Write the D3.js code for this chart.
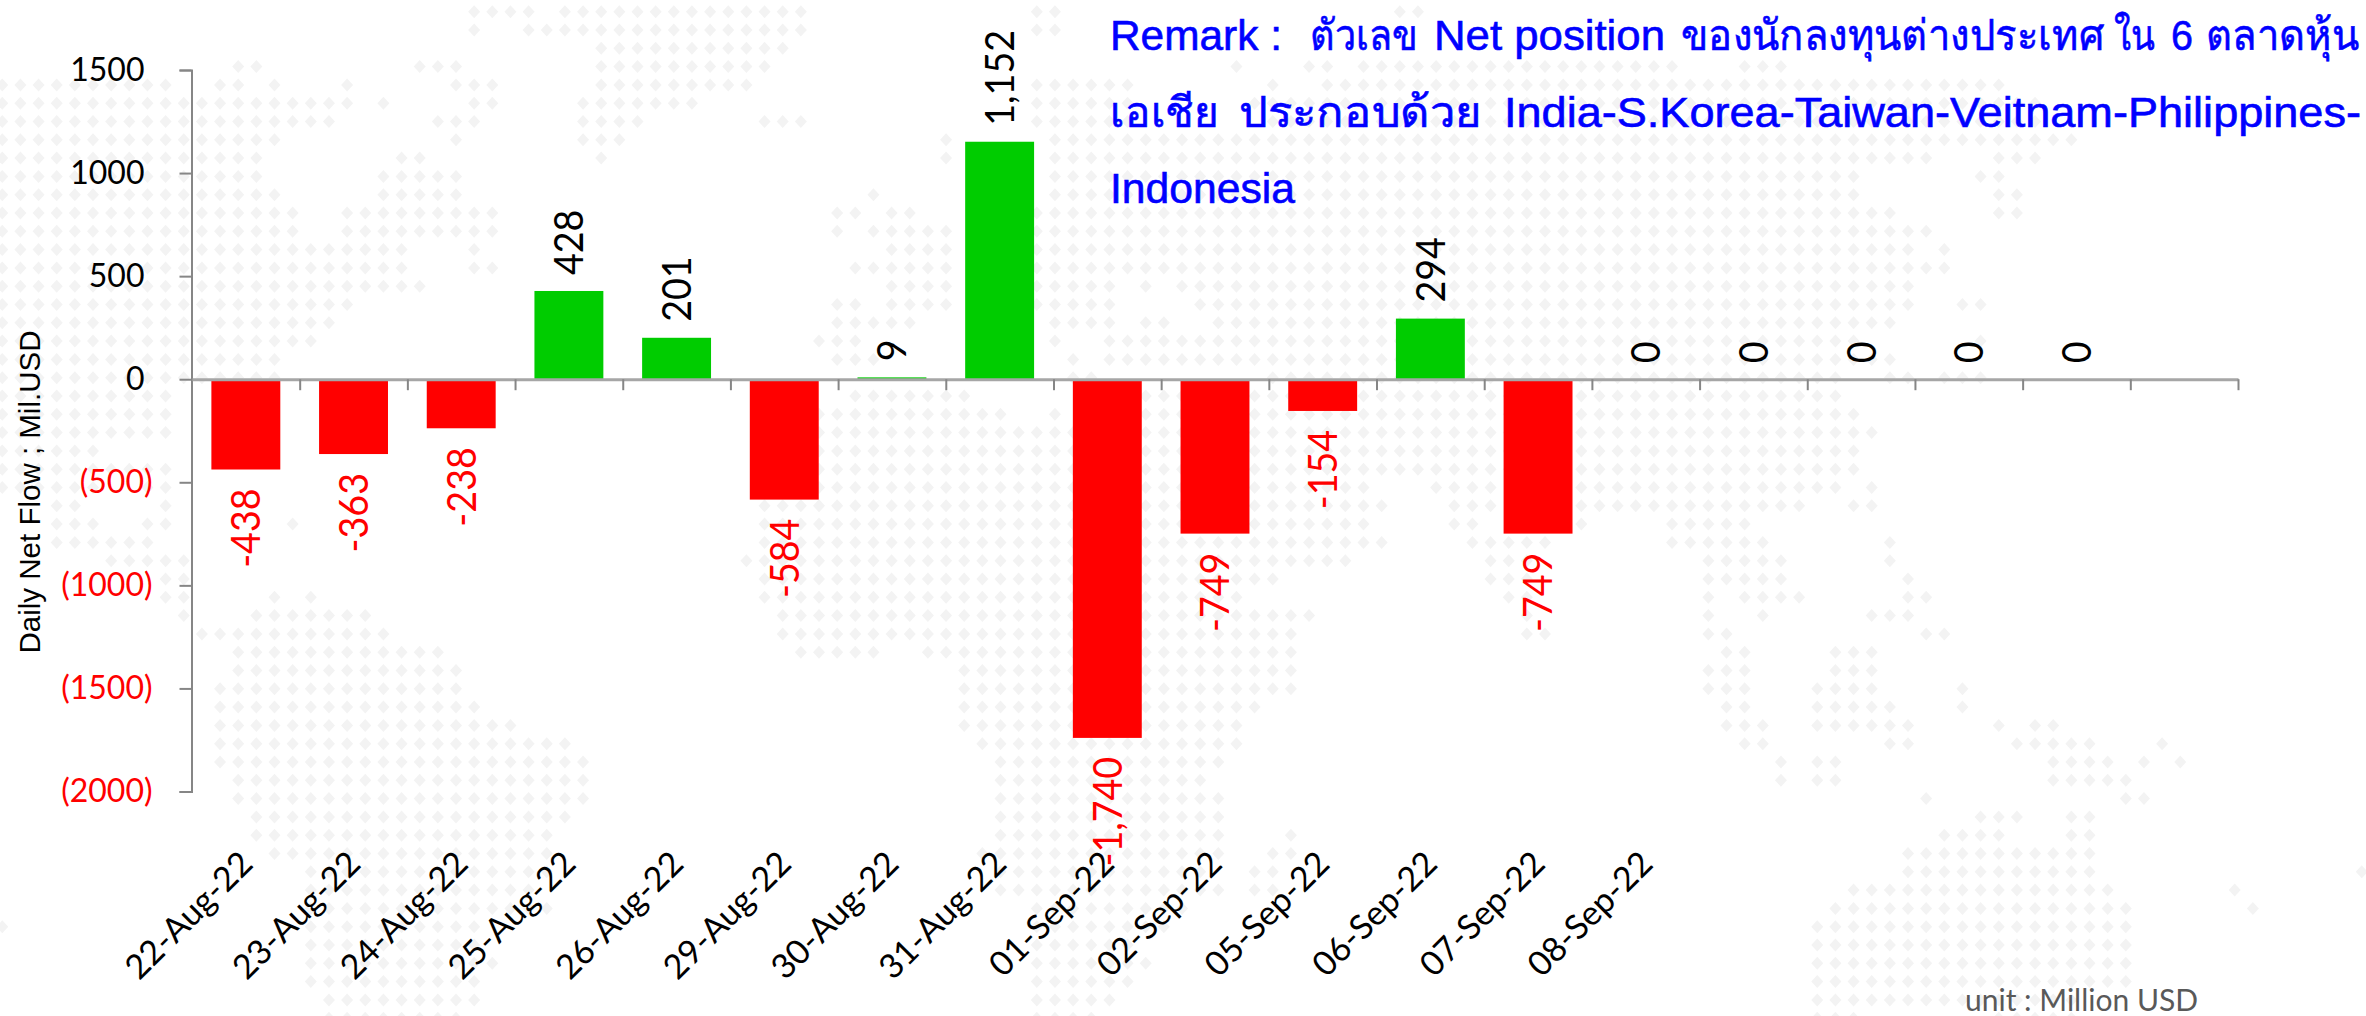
<!DOCTYPE html>
<html>
<head>
    <title>Daily Net Flow</title>
    <script src="https://d3js.org/d3.v7.min.js"></script>
    <style>
        body { margin: 0; background: #fff; overflow: hidden; }
        svg { display: block; }
        .tick text { font-family: Lato, sans-serif; }
        .remark { font-family: "Liberation Sans", "Noto Sans", sans-serif; white-space: pre; }
    </style>
</head>
<body>
    <svg id="chart" width="2366" height="1016"></svg>
    <script>
        const dates = ['22-Aug-22', '23-Aug-22', '24-Aug-22', '25-Aug-22', '26-Aug-22', '29-Aug-22', '30-Aug-22',
            '31-Aug-22', '01-Sep-22', '02-Sep-22', '05-Sep-22', '06-Sep-22', '07-Sep-22', '08-Sep-22', '', '', '', '', ''];
        // last category has no label at all, the other empty ones show 0
        const netFlow = [-438, -363, -238, 428, 201, -584, 9, 1152, -1740, -749, -154, 294, -749, 0, 0, 0, 0, 0, null];
        const yTicks = [1500, 1000, 500, 0, -500, -1000, -1500, -2000];
        const remarkLines = [
            ['Remark :', 'ตัวเลข', 'Net position', 'ของนักลงทุนต่างประเทศ', 'ใน', '6', 'ตลาดหุ้น'],
            ['เอเชีย', 'ประกอบด้วย', 'India-S.Korea-Taiwan-Veitnam-Philippines-'],
            ['Indonesia']
        ];
        const yTitle = 'Daily Net Flow ; Mil.USD';
        const unitText = 'unit : Million USD';

        // dotted world map behind the chart: one list of [first, last] grid columns per grid row
        const mapRows = [
            [[26, 29], [31, 44], [57, 58], [77, 78]],
            [[26, 26], [29, 44], [57, 58]],
            [[33, 43]],
            [[13, 14], [23, 25], [33, 42], [68, 68], [72, 73], [75, 92], [96, 98]],
            [[0, 9], [12, 13], [15, 15], [19, 19], [25, 27], [33, 41], [57, 62], [70, 70], [73, 110]],
            [[0, 19], [21, 21], [26, 27], [32, 38], [57, 62], [69, 112]],
            [[0, 18], [24, 26], [32, 35], [42, 44], [57, 62], [70, 112]],
            [[0, 15], [25, 25], [32, 34], [52, 52], [58, 114]],
            [[0, 14], [22, 23], [33, 33], [52, 52], [58, 106], [110, 112]],
            [[0, 14], [21, 25], [58, 102], [109, 110]],
            [[0, 15], [21, 25], [48, 48], [58, 102], [110, 111]],
            [[0, 16], [19, 27], [46, 47], [49, 50], [57, 104], [110, 111]],
            [[0, 16], [19, 27], [46, 46], [48, 52], [57, 106]],
            [[0, 22], [26, 26], [49, 52], [57, 105], [107, 107]],
            [[0, 22], [26, 27], [47, 52], [57, 107]],
            [[0, 23], [49, 52], [57, 61], [63, 63], [65, 105]],
            [[0, 19], [46, 47], [49, 52], [57, 61], [66, 105], [108, 109]],
            [[0, 18], [46, 50], [58, 61], [63, 64], [67, 104]],
            [[0, 17], [45, 47], [58, 58], [61, 102], [109, 109]],
            [[0, 15], [46, 48], [59, 59], [61, 104]],
            [[0, 15], [59, 60], [70, 101], [104, 105], [107, 109]],
            [[0, 9], [47, 53], [60, 101]],
            [[0, 9], [45, 55], [58, 58], [62, 102]],
            [[0, 9], [43, 103]],
            [[0, 5], [43, 102]],
            [[0, 9], [43, 102]],
            [[0, 5], [8, 9], [43, 75], [79, 82], [87, 101], [103, 103]],
            [[3, 4], [9, 9], [42, 76], [80, 82], [87, 99], [102, 103]],
            [[3, 5], [8, 9], [16, 16], [42, 75], [80, 81], [87, 87], [92, 96]],
            [[3, 8], [42, 76], [81, 85], [92, 97], [104, 104]],
            [[6, 10], [41, 74], [82, 84], [94, 98], [104, 104]],
            [[9, 10], [42, 70], [82, 84], [94, 98], [105, 105]],
            [[9, 10], [15, 15], [17, 17], [42, 68], [83, 84], [94, 94], [96, 99], [105, 106]],
            [[10, 10], [14, 20], [43, 72], [84, 84], [94, 94], [97, 97], [103, 105]],
            [[11, 21], [43, 71], [84, 85], [94, 95], [106, 107]],
            [[13, 24], [44, 48], [51, 71], [95, 96], [101, 103]],
            [[13, 25], [53, 71], [94, 96], [101, 103]],
            [[12, 25], [53, 71], [94, 96], [100, 103], [108, 108]],
            [[12, 26], [53, 69], [95, 96], [100, 104], [108, 108]],
            [[12, 28], [53, 68], [95, 97], [100, 105], [110, 110], [112, 113]],
            [[12, 31], [54, 68], [96, 97], [104, 105], [111, 115], [119, 119]],
            [[12, 32], [55, 67], [98, 98], [100, 101], [113, 116], [118, 118], [120, 120]],
            [[13, 32], [55, 66], [98, 98], [100, 101], [113, 117]],
            [[13, 32], [55, 67], [106, 106], [117, 118]],
            [[14, 31], [55, 67], [109, 111], [114, 115]],
            [[14, 30], [55, 67], [71, 71], [107, 110], [114, 115]],
            [[15, 30], [54, 67], [70, 71], [105, 115]],
            [[17, 30], [55, 66], [69, 70], [105, 115], [130, 130]],
            [[17, 29], [55, 67], [69, 70], [102, 116], [123, 123]],
            [[17, 30], [57, 65], [101, 117], [124, 124]],
            [[0, 0], [17, 26], [57, 64], [100, 117]],
            [[17, 26], [57, 62], [100, 117]],
            [[17, 27], [57, 63], [100, 117]],
            [[17, 26], [57, 62], [100, 117]],
            [[18, 26], [57, 61], [100, 114]],
            [[18, 25], [57, 60], [100, 102], [110, 114]]
        ];

        const svg = d3.select('#chart');

        const mapDots = [];
        mapRows.forEach((runs, row) => {
            runs.forEach(([first, last]) => {
                d3.range(first, last + 1).forEach(col => mapDots.push({ row, col }));
            });
        });

        const mapX = d3.scaleLinear().domain([0, 1]).range([2.25, 20.4]);
        const mapY = d3.scaleLinear().domain([0, 1]).range([11.7, 30]);
        const dotPath = 'M0,-6.5L6,0L0,6.5L-6,0Z';

        svg.append('g')
            .selectAll('path')
            .data(mapDots)
            .enter()
            .append('path')
            .attr('d', dotPath)
            .attr('fill', '#f3f3f3')
            .attr('transform', d => `translate(${mapX(d.col)},${mapY(d.row)})`);

        const x = d3.scaleBand()
            .domain(d3.range(dates.length))
            .range([192, 2238])
            .paddingInner(0.36)
            .paddingOuter(0.18);

        const xEdges = d3.scaleLinear().domain([0, dates.length]).range([192, 2238]);

        const y = d3.scaleLinear().domain([-2000, 1500]).range([791.5, 70]);

        const bars = netFlow.map((v, i) => ({ v, i })).filter(d => d.v !== null);

        svg.append('g')
            .selectAll('rect')
            .data(bars)
            .enter()
            .append('rect')
            .attr('x', d => x(d.i))
            .attr('width', x.bandwidth())
            .attr('y', d => y(Math.max(d.v, 0)))
            .attr('height', d => Math.abs(y(d.v) - y(0)))
            .attr('fill', d => d.v < 0 ? '#ff0000' : '#00cc00');

        // y axis
        const yAxis = svg.append('g')
            .attr('transform', 'translate(191.5,0)')
            .call(d3.axisLeft(y)
                .tickValues(yTicks)
                .tickSize(12)
                .tickFormat(d => d < 0 ? `(${-d})` : d));
        yAxis.selectAll('path, line').attr('stroke', '#868686').attr('stroke-width', 2);
        yAxis.selectAll('text')
            .attr('x', d => d < 0 ? -39 : -47)
            .attr('font-size', 32)
            .attr('fill', d => d < 0 ? '#ff0000' : '#000');

        // zero line with ticks on the band edges
        const zeroAxis = svg.append('g')
            .attr('transform', `translate(0,${y(0)})`)
            .call(d3.axisBottom(xEdges)
                .tickValues(d3.range(1, dates.length + 1))
                .tickSize(11)
                .tickSizeOuter(0)
                .tickFormat(''));
        zeroAxis.selectAll('line').attr('stroke', '#868686').attr('stroke-width', 2);
        zeroAxis.select('.domain').attr('stroke', '#a6a6a6').attr('stroke-width', 3);

        // value labels, turned upright
        svg.append('g')
            .selectAll('text')
            .data(bars)
            .enter()
            .append('text')
            .attr('font-family', 'Lato, sans-serif')
            .attr('font-size', 40)
            .attr('dy', '0.36em')
            .attr('text-anchor', d => d.v < 0 ? 'end' : 'start')
            .attr('fill', d => d.v < 0 ? '#ff0000' : '#000')
            .attr('transform', d => {
                const cx = x(d.i) + x.bandwidth() / 2;
                const cy = d.v < 0 ? y(d.v) + 19 : y(d.v) - 16;
                return `translate(${cx},${cy}) rotate(-90) scale(0.94,1)`;
            })
            .text(d => d3.format(',')(d.v).replace('−', '-'));

        // date labels
        const dateAxis = svg.append('g')
            .attr('transform', 'translate(-8,849)')
            .call(d3.axisBottom(x)
                .tickSize(0)
                .tickPadding(0)
                .tickFormat(i => dates[i]));
        dateAxis.select('.domain').remove();
        dateAxis.selectAll('text')
            .attr('font-size', 34)
            .attr('fill', '#000')
            .attr('text-anchor', 'end')
            .attr('dy', '0.7em')
            .attr('transform', 'rotate(-45)');

        svg.append('text')
            .attr('font-family', '"Liberation Sans", sans-serif')
            .attr('font-size', 29.5)
            .attr('text-anchor', 'middle')
            .attr('transform', 'translate(40,492) rotate(-90)')
            .text(yTitle);

        svg.append('text')
            .attr('font-family', 'Lato, sans-serif')
            .attr('font-size', 30)
            .attr('fill', '#595959')
            .attr('x', 1965)
            .attr('y', 1011)
            .text(unitText);

        // the remark is set word group by word group, the Thai face here runs wider than the original
        const remarkSpans = [
            [[1110, 1282], [1310, 1418], [1434, 1665], [1681, 2104], [2114, 2155], [2171, 2193], [2206, 2359]],
            [[1110, 1219], [1239, 1482], [1504, 2361]],
            [[1110, 1295]]
        ];
        const remarkY = d3.scaleLinear().domain([0, 1]).range([50, 126.5]);

        remarkLines.forEach((words, line) => {
            svg.append('g')
                .selectAll('text')
                .data(words)
                .enter()
                .append('text')
                .attr('class', 'remark')
                .attr('font-size', 42.6)
                .attr('fill', '#0000ff')
                .attr('stroke', '#0000ff')
                .attr('stroke-width', 0.6)
                .attr('x', (d, i) => remarkSpans[line][i][0])
                .attr('y', remarkY(line))
                .attr('textLength', (d, i) => remarkSpans[line][i][1] - remarkSpans[line][i][0])
                .attr('lengthAdjust', 'spacingAndGlyphs')
                .text(d => d);
        });
    </script>
</body>
</html>
